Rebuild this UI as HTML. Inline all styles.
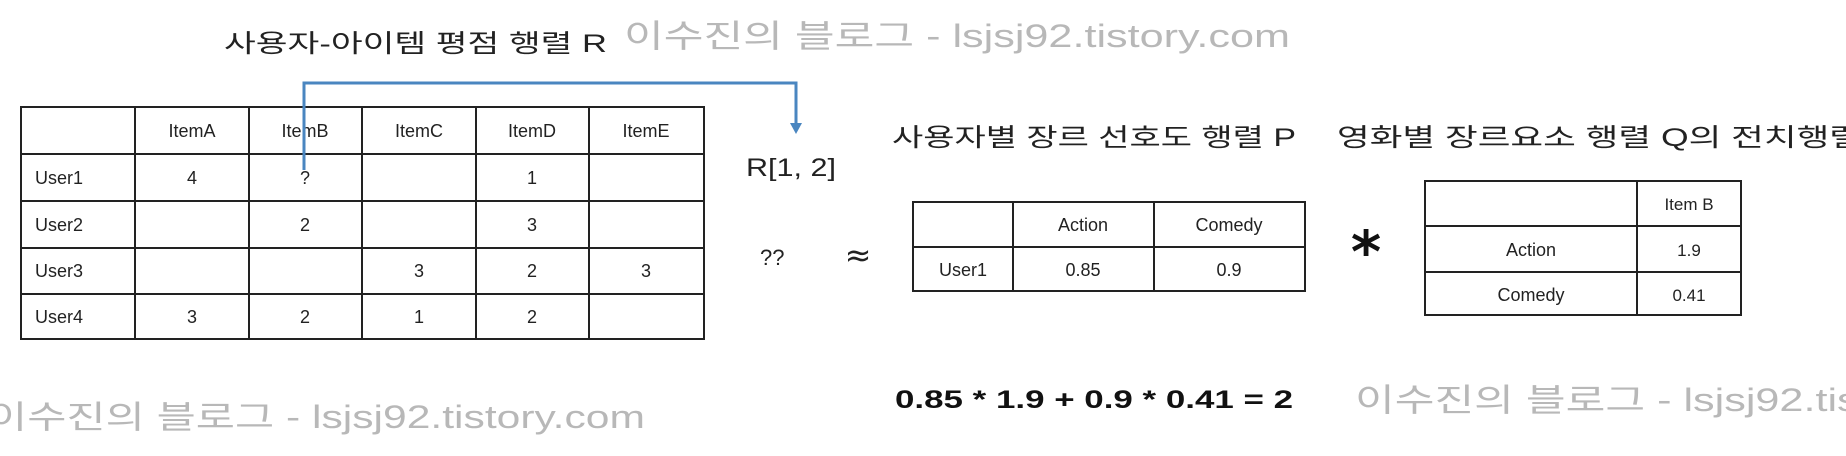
<!DOCTYPE html>
<html><head><meta charset="utf-8"><style>
html,body{margin:0;padding:0;background:#fff;width:1846px;height:456px;overflow:hidden}
svg{display:block}
text{font-family:"Liberation Sans","Noto Sans CJK KR",sans-serif}
.c{font-size:18px;fill:#222;text-anchor:middle}
.l{font-size:18px;fill:#222}
.t{font-size:25px;fill:#222}
.w{font-size:32px;fill:#b8b8b8}
</style></head><body>
<svg width="1846" height="456" viewBox="0 0 1846 456" xmlns="http://www.w3.org/2000/svg">
<text class="t" x="224" y="52" textLength="383" lengthAdjust="spacingAndGlyphs">사용자-아이템 평점 행렬 R</text>
<text class="w" x="624" y="47" textLength="666" lengthAdjust="spacingAndGlyphs">이수진의 블로그 - lsjsj92.tistory.com</text>

<!-- Left table -->
<g stroke="#222" stroke-width="2" fill="none">
<rect x="21" y="107" width="683" height="232"/>
<line x1="21" y1="154" x2="704" y2="154"/><line x1="21" y1="201" x2="704" y2="201"/>
<line x1="21" y1="248" x2="704" y2="248"/><line x1="21" y1="294" x2="704" y2="294"/>
<line x1="135" y1="107" x2="135" y2="339"/><line x1="249" y1="107" x2="249" y2="339"/>
<line x1="362" y1="107" x2="362" y2="339"/><line x1="476" y1="107" x2="476" y2="339"/>
<line x1="589" y1="107" x2="589" y2="339"/>
</g>
<g>
<text class="c" x="192" y="137">ItemA</text><text class="c" x="305" y="137">ItemB</text><text class="c" x="419" y="137">ItemC</text><text class="c" x="532" y="137">ItemD</text><text class="c" x="646" y="137">ItemE</text>
<text class="l" x="35" y="184">User1</text><text class="l" x="35" y="231">User2</text><text class="l" x="35" y="277">User3</text><text class="l" x="35" y="323">User4</text>
<text class="c" x="192" y="184">4</text><text class="c" x="305" y="184">?</text><text class="c" x="532" y="184">1</text>
<text class="c" x="305" y="231">2</text><text class="c" x="532" y="231">3</text>
<text class="c" x="419" y="277">3</text><text class="c" x="532" y="277">2</text><text class="c" x="646" y="277">3</text>
<text class="c" x="192" y="323">3</text><text class="c" x="305" y="323">2</text><text class="c" x="419" y="323">1</text><text class="c" x="532" y="323">2</text>
</g>

<!-- blue connector -->
<polyline points="304,170 304,83 796,83 796,124" stroke="#4a86c0" stroke-width="3" fill="none"/>
<polygon points="790,123 802,123 796,134" fill="#4a86c0"/>

<text class="t" x="746" y="176" textLength="90" lengthAdjust="spacingAndGlyphs">R[1, 2]</text>
<text class="t" x="892" y="146" textLength="404" lengthAdjust="spacingAndGlyphs">사용자별 장르 선호도 행렬 P</text>
<text class="t" x="1337" y="146" textLength="525" lengthAdjust="spacingAndGlyphs">영화별 장르요소 행렬 Q의 전치행렬</text>
<text class="t" x="760" y="265" style="font-size:22px">??</text>
<text x="858" y="266" style="font-size:32px;fill:#222;text-anchor:middle;font-family:'DejaVu Sans',sans-serif">≈</text>
<text x="1366" y="272" style="font-size:58px;font-weight:bold;fill:#111;text-anchor:middle;font-family:'DejaVu Sans',sans-serif">*</text>

<!-- P table -->
<g stroke="#222" stroke-width="2" fill="none">
<rect x="913" y="202" width="392" height="89"/>
<line x1="913" y1="247" x2="1305" y2="247"/>
<line x1="1013" y1="202" x2="1013" y2="291"/><line x1="1154" y1="202" x2="1154" y2="291"/>
</g>
<text class="c" x="1083" y="231">Action</text><text class="c" x="1229" y="231">Comedy</text>
<text class="c" x="963" y="276">User1</text><text class="c" x="1083" y="276">0.85</text><text class="c" x="1229" y="276">0.9</text>

<!-- Q table -->
<g stroke="#222" stroke-width="2" fill="none">
<rect x="1425" y="181" width="316" height="134"/>
<line x1="1425" y1="226" x2="1741" y2="226"/><line x1="1425" y1="272" x2="1741" y2="272"/>
<line x1="1637" y1="181" x2="1637" y2="315"/>
</g>
<text class="c" x="1689" y="210" style="font-size:17px">Item B</text>
<text class="c" x="1531" y="256">Action</text><text class="c" x="1689" y="256" style="font-size:17px">1.9</text>
<text class="c" x="1531" y="301">Comedy</text><text class="c" x="1689" y="301" style="font-size:17px">0.41</text>

<text x="895" y="408" textLength="398" lengthAdjust="spacingAndGlyphs" style="font-size:25px;font-weight:bold;fill:#111">0.85 * 1.9 + 0.9 * 0.41 = 2</text>
<text class="w" x="-12" y="428" textLength="657" lengthAdjust="spacingAndGlyphs">이수진의 블로그 - lsjsj92.tistory.com</text>
<text class="w" x="1355" y="411" textLength="666" lengthAdjust="spacingAndGlyphs">이수진의 블로그 - lsjsj92.tistory.com</text>
</svg>
</body></html>
